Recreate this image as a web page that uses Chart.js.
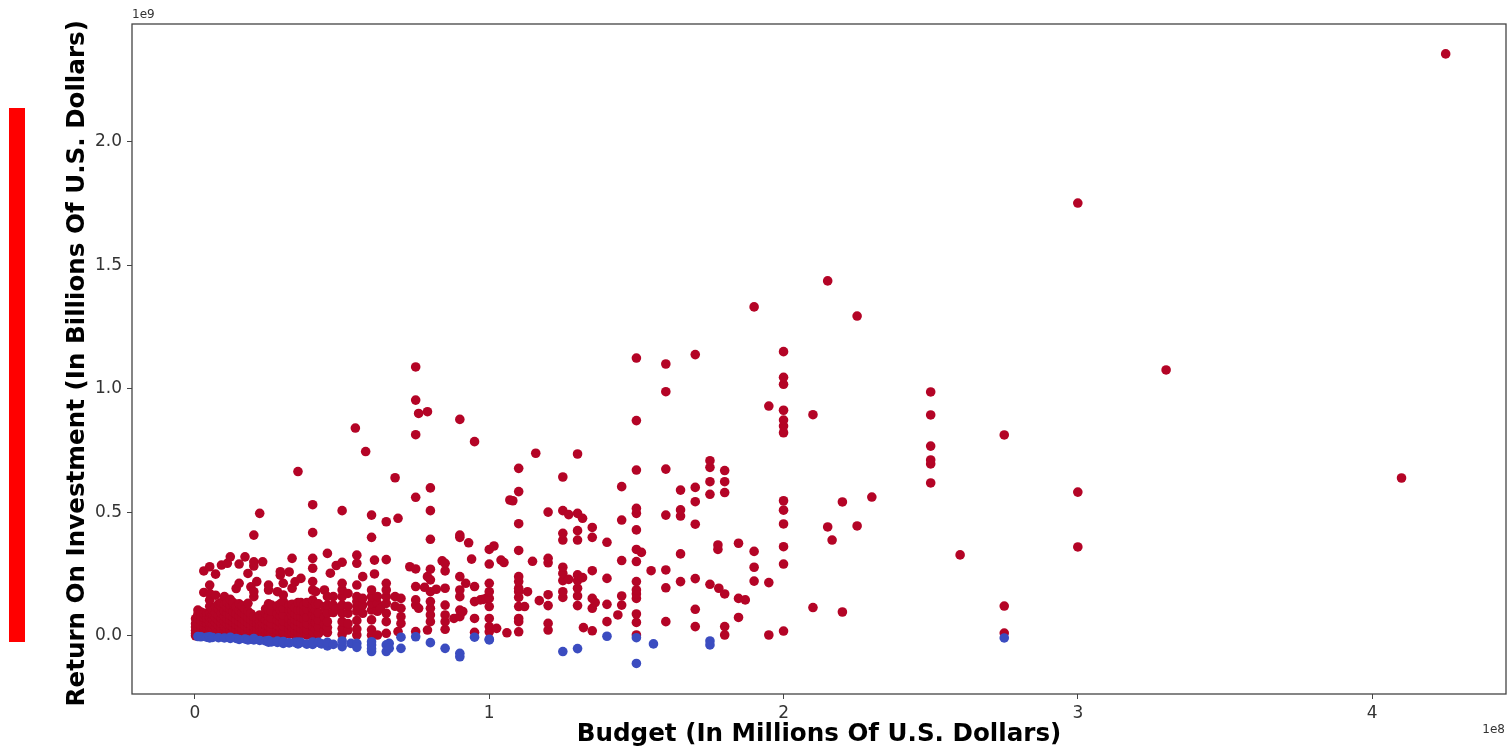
<!DOCTYPE html>
<html>
<head>
<meta charset="utf-8">
<title>Budget vs Return On Investment</title>
<script src="https://cdn.jsdelivr.net/npm/chart.js@4"></script>
<style>
    body { margin: 0; background: #fff; overflow: hidden; }
    #wrap { position: relative; width: 1507px; height: 749px; }
    #redBar { position: absolute; left: 9px; top: 108px; width: 16px; height: 534px; background: #ff0000; }
</style>
</head>
<body>
<div id="wrap">
    <div id="redBar"></div>
    <canvas id="roiChart" width="1507" height="749"></canvas>
</div>
<script>
// Values in millions of dollars
const xTicks = [0, 100, 200, 300, 400];
const xTickLabels = ['0', '1', '2', '3', '4'];
const yTicks = [0, 500, 1000, 1500, 2000];
const yTickLabels = ['0.0', '0.5', '1.0', '1.5', '2.0'];

// Movies that made money: each budget goes with a list of returns
const profitBudgets = [
    0.2, 1, 2, 3, 4, 5, 6, 7, 8, 9, 10, 11, 12, 13, 14, 15, 16, 17, 18, 19, 20, 21, 22, 23, 24, 25, 26, 28, 29, 30,
    32, 33, 34, 35, 36, 37, 38, 40, 41, 42, 44, 45, 46, 47, 48, 50, 52, 54.5, 55, 57, 58, 60, 61, 62, 63, 65, 68, 69, 70,
    73, 75, 76, 78, 79, 80, 82, 84, 85, 88, 90, 91, 92, 93, 94, 95, 97, 98, 99, 100, 101.6, 102.5, 104, 105, 106, 107, 108,
    110, 112, 113, 114.7, 115.8, 117, 120, 125, 127, 130, 131.7, 132, 135, 136, 140, 143.7, 145, 150, 151.7, 155, 160, 165,
    170, 175, 177.7, 178, 180, 184.7, 187, 190, 195, 200, 210, 215, 216.5, 220, 225, 230, 250, 260, 275, 300, 330, 410, 425
];
const profitReturns = [
    [1, 10, 22, 36, 50, 70], [4, 18, 34, 52, 70, 88, 105], [8, 24, 42, 60, 80, 97], [3, 20, 38, 56, 74, 92, 176, 263],
    [10, 30, 50, 70, 90], [2, 16, 36, 55, 76, 96, 120, 145, 172, 206, 280], [8, 28, 48, 68, 88, 105],
    [14, 34, 54, 74, 94, 118, 165, 250], [4, 22, 42, 62, 82, 110, 130], [12, 30, 50, 72, 92, 118, 135, 287],
    [3, 20, 40, 60, 80, 100, 128, 159], [10, 28, 48, 68, 90, 115, 135, 294], [5, 24, 44, 64, 84, 108, 125, 148, 320],
    [14, 34, 54, 76, 98, 125, 135], [8, 26, 46, 66, 90, 118, 192], [2, 18, 38, 58, 80, 104, 130, 213, 291],
    [10, 30, 50, 72, 95, 122], [4, 22, 42, 62, 85, 110, 320], [12, 32, 52, 74, 100, 132, 253],
    [6, 24, 44, 66, 90, 199], [2, 16, 36, 56, 78, 159, 179, 283, 300, 408], [10, 28, 50, 72, 220],
    [4, 20, 40, 60, 85, 496], [14, 32, 52, 74, 300], [6, 24, 44, 66, 92, 110], [2, 18, 38, 58, 80, 105, 130, 186, 206],
    [10, 30, 50, 72, 100, 125], [4, 22, 42, 64, 90, 122, 179], [14, 34, 56, 80, 105, 130, 246, 260],
    [3, 20, 40, 60, 84, 112, 140, 166, 213], [8, 28, 48, 70, 105, 125, 259], [14, 36, 58, 82, 105, 128, 193, 314],
    [4, 22, 44, 66, 90, 115, 219], [2, 16, 36, 58, 80, 105, 135, 665], [10, 30, 52, 76, 105, 135, 233],
    [20, 44, 70, 98, 125], [4, 26, 50, 76, 110, 135], [2, 18, 38, 60, 85, 112, 125, 145, 186, 220, 274, 314, 418, 531],
    [28, 54, 80, 105, 130, 179], [10, 36, 64, 92, 130], [22, 48, 76, 118, 186], [14, 34, 58, 92, 125, 159, 334],
    [254], [95, 125, 159], [110, 285], [6, 30, 58, 92, 125, 159, 186, 213, 298, 507],
    [24, 50, 92, 120, 172], [841], [4, 28, 62, 100, 120, 139, 159, 206, 294, 327], [92, 125, 152, 240], [746],
    [3, 25, 65, 105, 132, 159, 186, 399, 489], [251, 307], [4, 100, 132, 160], [112], [11, 58, 92, 132, 159, 186, 213, 309, 462],
    [120, 159, 640], [18, 476], [51, 78, 112, 152], [280], [18, 125, 146, 200, 271, 561, 814, 954, 1088], [112, 900],
    [197], [24, 240, 907], [58, 85, 112, 139, 179, 227, 270, 391, 507, 599], [189], [304], [27, 58, 85, 125, 193, 263, 294],
    [71], [78, 105, 159, 186, 240, 399, 408, 876], [99], [213], [377], [311], [15, 71, 139, 200, 786], [146], [148], [152],
    [17, 38, 71, 119, 152, 179, 213, 291, 350], [364], [31], [307], [297], [13], [550], [547],
    [17, 58, 71, 119, 156, 179, 193, 220, 240, 346, 454, 584, 678], [119], [179], [302], [739], [143],
    [24, 51, 123, 167, 296, 314, 501], [156, 179, 224, 253, 278, 388, 415, 507, 643], [229, 491],
    [123, 162, 193, 224, 247, 388, 426, 496, 736], [236, 476], [34], [21, 112, 152, 264, 399, 439], [135],
    [58, 128, 233, 379], [85], [125, 162, 305, 469, 604], [4, 55, 89, 152, 170, 186, 220, 301, 350, 429, 496, 516, 671, 871, 1124],
    [338], [264], [58, 195, 267, 489, 675, 988, 1100], [220, 332, 485, 510, 590], [38, 108, 232, 452, 543, 601, 1138],
    [209, 573, 624, 682, 709], [350, 368], [193], [4, 38, 170, 580, 624, 669], [75, 152, 375], [146], [222, 278, 342, 1331],
    [4, 216, 930], [20, 291, 361, 453, 509, 547, 822, 849, 873, 913, 1018, 1046, 1150], [115, 895], [441, 1436], [388],
    [97, 542], [445, 1294], [562], [619, 696, 712, 768, 894, 987], [328], [12, 121, 813], [360, 582, 1751], [1076], [639], [2354]
];

// Movies that lost money
const lossBudgets = [
    1, 2, 4, 5, 6, 8, 10, 12, 14, 15, 17, 18, 20, 22, 24, 25, 26, 28, 30, 32, 34, 35, 36, 38, 40, 42, 43, 45, 47, 50, 53, 55,
    60, 65, 66, 70, 75, 80, 85, 90, 95, 100, 125, 130, 140, 150, 155.8, 175, 275
];
const lossReturns = [
    [-2], [-3], [-5], [-8, -3], [-6], [-7], [-8], [-10, -5], [-10], [-14], [-12], [-16], [-16, -10], [-18], [-20], [-25, -18],
    [-24], [-26, -20], [-30, -22], [-28], [-26], [-32, -24], [-26], [-33], [-34, -24], [-26], [-32], [-40, -26], [-34], [-43, -20],
    [-30], [-30, -46], [-63, -52, -36, -23], [-63, -36], [-30, -50], [-50, -5], [-3], [-27], [-50], [-70, -84], [-5], [-16, -13],
    [-63], [-51], [-1], [-7, -111], [-32], [-20, -36], [-8]
];

// Turn a budget list and its return lists into scatter points
function toPoints(budgets, returns) {
    return budgets.flatMap(function(budget, i) {
        return returns[i].map(function(value) {
            return { x: budget, y: value };
        });
    });
}

// Frame round the plot and the matplotlib style scale notes
const framePlugin = {
    id: 'frame',
    afterDraw(chart) {
        const ctx = chart.ctx;
        const area = chart.chartArea;
        ctx.save();
        ctx.strokeStyle = '#444';
        ctx.lineWidth = 1.3;
        ctx.strokeRect(area.left, area.top, area.right - area.left, area.bottom - area.top);
        ctx.fillStyle = '#333';
        ctx.font = '12px "DejaVu Sans"';
        ctx.textAlign = 'left';
        ctx.fillText('1e9', area.left, area.top - 6);
        ctx.textAlign = 'right';
        ctx.fillText('1e8', area.right - 1, area.bottom + 39);
        ctx.restore();
    }
};

const tickFont = { family: '"DejaVu Sans"', size: 17 };
const titleFont = { family: '"DejaVu Sans"', size: 24.6, weight: 'bold' };

new Chart(document.getElementById('roiChart'), {
    type: 'scatter',
    data: {
        datasets: [{
            label: 'Loss',
            data: toPoints(lossBudgets, lossReturns),
            backgroundColor: '#3b4cc0',
            borderWidth: 0,
            pointRadius: 4.8
        }, {
            label: 'Profit',
            data: toPoints(profitBudgets, profitReturns),
            backgroundColor: '#b40426',
            borderWidth: 0,
            pointRadius: 4.8
        }]
    },
    options: {
        responsive: false,
        animation: false,
        layout: { autoPadding: false, padding: { top: 24, right: 1, left: 0, bottom: 0 } },
        plugins: { legend: { display: false }, tooltip: { enabled: false } },
        scales: {
            x: {
                type: 'linear',
                min: -21.4,
                max: 445.5,
                afterFit(scale) { scale.height = 55; },
                afterBuildTicks(scale) { scale.ticks = xTicks.map(v => ({ value: v })); },
                border: { display: false },
                grid: { drawOnChartArea: false, tickLength: 5, color: '#444' },
                ticks: {
                    color: '#333', font: tickFont, padding: 4, maxRotation: 0,
                    callback: value => xTickLabels[xTicks.indexOf(value)]
                },
                title: {
                    display: true, text: 'Budget (In Millions Of U.S. Dollars)',
                    color: '#000', font: titleFont, padding: 0
                }
            },
            y: {
                type: 'linear',
                min: -234.6,
                max: 2475,
                afterFit(scale) { scale.width = 132; },
                afterBuildTicks(scale) { scale.ticks = yTicks.map(v => ({ value: v })); },
                border: { display: false },
                grid: { drawOnChartArea: false, tickLength: 5, color: '#444' },
                ticks: {
                    color: '#333', font: tickFont, padding: 5,
                    callback: value => yTickLabels[yTicks.indexOf(value)]
                },
                title: {
                    display: true, text: 'Return On Investment (In Billions Of U.S. Dollars) ',
                    color: '#000', font: titleFont, padding: { top: 63, bottom: 0 }
                }
            }
        }
    },
    plugins: [framePlugin]
});
</script>
</body>
</html>
